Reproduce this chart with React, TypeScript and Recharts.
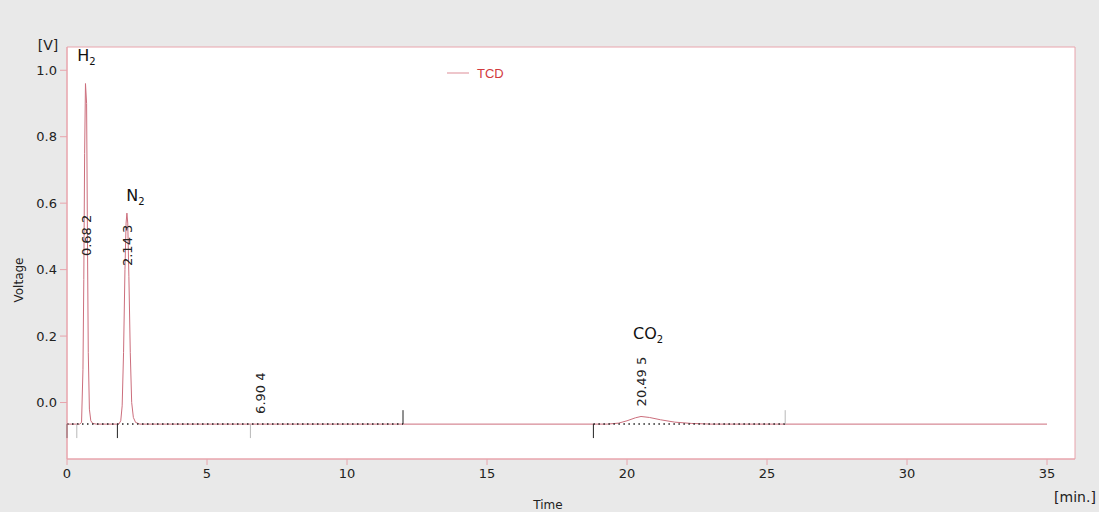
import {
  LineChart,
  Line,
  XAxis,
  YAxis,
  Legend,
  ReferenceArea,
  ReferenceLine,
  ReferenceDot,
} from 'recharts';

// chromatogram trace (time in min, voltage in V)
const TIME = [
  0, 0.45, 0.52, 0.57, 0.6, 0.63, 0.66, 0.7, 0.73, 0.76, 0.8, 0.85, 0.92, 1.05,
  1.85, 1.92, 1.97, 2.02, 2.07, 2.11, 2.14, 2.17, 2.21, 2.26, 2.31, 2.37, 2.45, 2.6,
  19.3, 19.7, 20.0, 20.3, 20.5, 20.8, 21.2, 21.7, 22.3, 23.0, 35.0,
];
const VOLTAGE = [
  -0.065, -0.065, -0.06, 0.1, 0.37, 0.75, 0.96, 0.9, 0.5, 0.15, -0.02, -0.055, -0.063, -0.065,
  -0.065, -0.055, -0.01, 0.15, 0.4, 0.54, 0.57, 0.54, 0.38, 0.15, 0.0, -0.045, -0.06, -0.065,
  -0.065, -0.062, -0.055, -0.046, -0.042, -0.045, -0.052, -0.059, -0.063, -0.065, -0.065,
];

const BASELINE = -0.065;
const X_TICKS = [0, 5, 10, 15, 20, 25, 30, 35];
const Y_TICKS = [0, 0.2, 0.4, 0.6, 0.8, 1.0];

// integration event marks: time, direction (+1 up / -1 down), dark or light
const MARK_TIMES = [0, 0.35, 1.8, 6.55, 12.0, 18.8, 25.65];
const MARK_DIRS = [-1, -1, -1, -1, 1, -1, 1];
const MARK_DARK = [true, false, true, false, true, true, false];

// dotted baselines drawn by the integrator
const DOTTED_FROM = [0, 18.8];
const DOTTED_TO = [12.0, 25.65];

// peak annotations (retention time + number), rotated text
const PEAK_TEXT = ['0.68 2', '2.14 3', '6.90 4', '20.49 5'];
const PEAK_T = [0.68, 2.14, 6.90, 20.49];
const PEAK_V = [0.5, 0.47, 0.025, 0.06];

// compound names
const COMPOUND = ['H', 'N', 'CO'];
const COMPOUND_T = [0.4, 2.15, 20.25];
const COMPOUND_V = [1.025, 0.603, 0.188];

const data = TIME.map((t, i) => ({ t, v: VOLTAGE[i] }));

const BORDER = '#e8a4ac';
const TRACE = '#cc6e7c';
const FONT = '"DejaVu Sans", Verdana, sans-serif';
const LEGEND_H = 24;

const peakLabel = (text: string) => (props: any) => {
  const { x, y } = props.viewBox;
  return (
    <text
      x={x + 6}
      y={y}
      transform={`rotate(-90 ${x + 6} ${y})`}
      textAnchor="middle"
      fontSize={13}
      fontFamily={FONT}
      fill="#222"
    >
      {text}
    </text>
  );
};

const compoundLabel = (name: string) => (props: any) => {
  const { x, y } = props.viewBox;
  return (
    <text x={x} y={y} fontSize={16} fontFamily={FONT} fill="#111">
      {name}
      <tspan fontSize={10} dy={4}>
        2
      </tspan>
    </text>
  );
};

const renderLegend = () => (
  <div style={{ height: LEGEND_H, display: 'flex', alignItems: 'center' }}>
    <svg width={22} height={10} style={{ marginRight: 8 }}>
      <line x1={0} y1={5} x2={22} y2={5} stroke="#e2a0a8" strokeWidth={1.2} />
    </svg>
    <span style={{ color: '#d23a3e', fontSize: 13, fontFamily: 'Arial, "Liberation Sans", sans-serif' }}>
      TCD
    </span>
  </div>
);

const App = () => {
  return (
    <div
      style={{
        position: 'absolute',
        left: 0,
        top: 0,
        width: 1099,
        height: 512,
        background: '#e9e9e9',
      }}
    >
      <LineChart
        width={1099}
        height={512}
        data={data}
        margin={{ top: 47 - LEGEND_H, right: 24, bottom: 0, left: 0 }}
      >
        <XAxis
          dataKey="t"
          type="number"
          domain={[0, 36]}
          ticks={X_TICKS}
          allowDataOverflow
          height={53}
          stroke={BORDER}
          tickSize={6}
          tickMargin={4}
          tick={{ fill: '#222', fontSize: 13, fontFamily: FONT }}
          label={{
            content: () => (
              <g>
                <text x={548} y={509} textAnchor="middle" fontSize={12} fontFamily={FONT} fill="#222">
                  Time
                </text>
                <text x={1075} y={502} textAnchor="middle" fontSize={14} fontFamily={FONT} fill="#222">
                  [min.]
                </text>
              </g>
            ),
          }}
        />
        <YAxis
          type="number"
          domain={[-0.17, 1.07]}
          ticks={Y_TICKS}
          allowDataOverflow
          width={67}
          stroke={BORDER}
          tickSize={7}
          tickMargin={3}
          tickFormatter={(v: number) => v.toFixed(1)}
          tick={{ fill: '#222', fontSize: 13, fontFamily: FONT }}
          label={{
            content: () => (
              <g>
                <text
                  x={23}
                  y={280}
                  transform="rotate(-90 23 280)"
                  textAnchor="middle"
                  fontSize={12}
                  fontFamily={FONT}
                  fill="#222"
                >
                  Voltage
                </text>
                <text x={48} y={50} textAnchor="middle" fontSize={14} fontFamily={FONT} fill="#222">
                  [V]
                </text>
              </g>
            ),
          }}
        />
        <ReferenceArea
          x1={0}
          x2={36}
          y1={-0.17}
          y2={1.07}
          fill="#ffffff"
          fillOpacity={1}
          stroke={BORDER}
          strokeWidth={1}
        />
        <Line
          dataKey="v"
          type="linear"
          stroke={TRACE}
          strokeWidth={1}
          dot={false}
          isAnimationActive={false}
          name="TCD"
        />
        {DOTTED_FROM.map((from, i) => (
          <ReferenceLine
            key={`dot-${i}`}
            segment={[
              { x: from, y: BASELINE },
              { x: DOTTED_TO[i], y: BASELINE },
            ]}
            stroke="#222"
            strokeWidth={1.5}
            strokeDasharray="1.5 3.5"
          />
        ))}
        {MARK_TIMES.map((t, i) => (
          <ReferenceLine
            key={`mark-${i}`}
            segment={[
              { x: t, y: BASELINE },
              { x: t, y: BASELINE + MARK_DIRS[i] * 0.042 },
            ]}
            stroke={MARK_DARK[i] ? '#222' : '#b8b8b8'}
            strokeWidth={1}
          />
        ))}
        {PEAK_TEXT.map((text, i) => (
          <ReferenceDot
            key={`pk-${i}`}
            x={PEAK_T[i]}
            y={PEAK_V[i]}
            r={1}
            fill="none"
            stroke="none"
            label={{ content: peakLabel(text) }}
          />
        ))}
        {COMPOUND.map((name, i) => (
          <ReferenceDot
            key={`cp-${i}`}
            x={COMPOUND_T[i]}
            y={COMPOUND_V[i]}
            r={1}
            fill="none"
            stroke="none"
            label={{ content: compoundLabel(name) }}
          />
        ))}
        <Legend
          verticalAlign="top"
          content={renderLegend}
          wrapperStyle={{ position: 'absolute', top: 61, left: 447, width: 100, height: LEGEND_H }}
        />
      </LineChart>
    </div>
  );
};

export default App;
